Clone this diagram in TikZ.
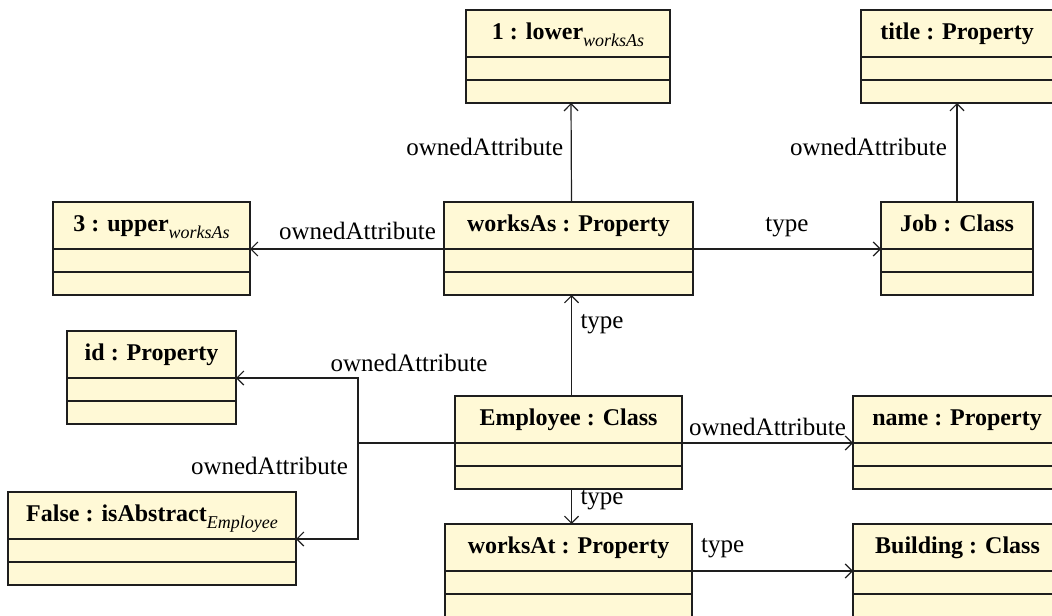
\documentclass[tikz,border=0pt]{standalone}
\usepackage{fontspec}
\setmainfont{Liberation Serif}
\usetikzlibrary{arrows.meta}
\definecolor{boxfill}{RGB}{255,249,214}
\definecolor{linec}{RGB}{30,30,30}
\newcommand{\sbs}[1]{\raisebox{-0.3em}{\fontsize{9}{10}\selectfont\mdseries\itshape #1}}
% name, left x (px), top y (px), width (pt), title text
\newcommand{\umlclass}[5]{%
  \node[umltitle, minimum width=#4pt, anchor=north west] (#1) at (#2,#3) {#5};
  \node[umlpart, minimum width=#4pt, anchor=north] (#1-a) at (#1.south) {};
  \node[umlpart, minimum width=#4pt, anchor=north] (#1-b) at (#1-a.south) {};
}
\tikzset{
  umltitle/.style={draw=linec, fill=boxfill, line width=0.6pt, inner sep=0pt, outer sep=0pt,
    minimum height=23.5pt, font=\fontsize{12}{14}\selectfont\bfseries, text height=8.5pt, text depth=2.6pt},
  umlpart/.style={draw=linec, fill=boxfill, line width=0.6pt, inner sep=0pt, outer sep=0pt,
    minimum height=11.5pt},
  arr/.style={-{Straight Barb[length=3.5pt,width=7pt]}, line width=0.6pt, draw=linec},
  plainline/.style={line width=0.6pt, draw=linec},
  lbl/.style={font=\fontsize{12.5}{15}\selectfont, inner sep=0pt, outer sep=0pt}
}
\begin{document}
\begin{tikzpicture}[x=0.5pt,y=-0.5pt]
\useasboundingbox (0,0) rectangle (1052,615);
\clip (0,0) rectangle (1052,615);

\umlclass{lower}{466}{10}{102}{1 : lower\sbs{worksAs}}
\umlclass{title}{861}{10}{96}{title : Property}
\umlclass{upper}{53}{202}{98.5}{3 : upper\sbs{worksAs}}
\umlclass{worksAs}{444}{202}{124.5}{worksAs : Property}
\umlclass{job}{881}{202}{76}{Job : Class}
\umlclass{id}{67}{331}{84.5}{id : Property}
\umlclass{emp}{455}{396}{113.5}{Employee : Class}
\umlclass{name}{853}{396}{104}{name : Property}
\umlclass{false}{8}{492}{144}{False : isAbstract\sbs{Employee}}
\umlclass{worksAt}{445}{524}{123.5}{worksAt : Property}
\umlclass{building}{853}{524}{104.5}{Building : Class}

\draw[arr] ([xshift=1.5pt]worksAs.north) -- node[lbl, left=4pt, pos=0.56] {ownedAttribute} ([xshift=1.5pt]lower-b.south);
\draw[arr] (worksAs.south west) -- node[lbl, above=4.5pt, pos=0.446] {ownedAttribute} (upper.south east);
\draw[arr] (worksAs.south east) -- node[lbl, above=6pt] {type} (job.south west);
\draw[arr] (job.north) -- node[lbl, left=5pt, pos=0.56] {ownedAttribute} (title-b.south);
\draw[arr] ([xshift=1.5pt]emp.north) -- node[lbl, right=4.5pt, pos=0.71] {type} ([xshift=1.5pt]worksAs-b.south);
\draw[arr] ([xshift=1.5pt]emp-b.south) -- node[lbl, right=4.5pt, pos=0.31] {type} ([xshift=1.5pt]worksAt.north);
\draw[arr] (emp.south east) -- node[lbl, above=3.5pt] {ownedAttribute} (name.south west);
\draw[arr] (worksAt.south east) -- node[lbl, above=6.5pt, pos=0.19] {type} (building.south west);

\coordinate (j) at (358,443);
\draw[plainline] (emp.south west) -- (j);
\draw[arr] (j) |- node[lbl, pos=0.5, above=3pt, xshift=25.5pt] {ownedAttribute} (id.south east);
\draw[arr] (j) |- node[lbl, pos=0.118, left=5pt] {ownedAttribute} (false.south east);
\end{tikzpicture}
\end{document}
